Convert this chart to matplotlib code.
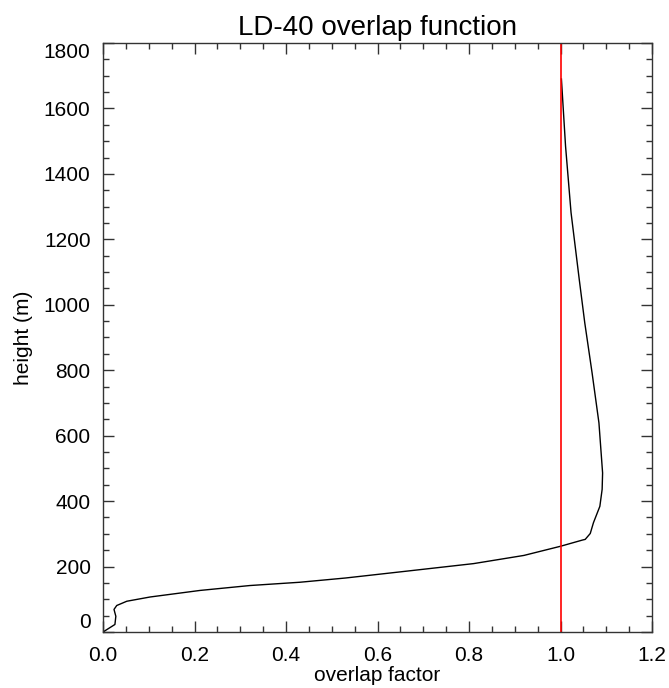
import matplotlib
matplotlib.use("Agg")
import matplotlib.pyplot as plt
from matplotlib.ticker import MultipleLocator

plt.rcParams['font.family'] = ['Liberation Sans', 'DejaVu Sans']

# overlap factor
height = [0, 23, 48, 69, 81, 94, 107, 127, 142, 152, 165, 186, 209, 234,
          262, 281, 283, 301, 334, 384, 436, 486, 639, 792, 945, 1077, 1282,
          1485, 1690]
overlap = [0.0, 0.026, 0.028, 0.024, 0.030, 0.052, 0.103, 0.212, 0.321, 0.43,
           0.53, 0.664, 0.81, 0.92, 1.0, 1.048, 1.054, 1.065, 1.072, 1.086,
           1.091, 1.092, 1.084, 1.069, 1.053, 1.041, 1.023, 1.011, 1.002]

xticks = [0.0, 0.2, 0.4, 0.6, 0.8, 1.0, 1.2]
yticks = [0, 200, 400, 600, 800, 1000, 1200, 1400, 1600, 1800]

fig = plt.figure(figsize=(6.69, 6.88), dpi=100)
ax = fig.add_axes([0.154, 0.0814, 0.8206, 0.8561])

ax.plot(overlap, height, color='black', lw=1)
ax.axvline(1.0, color='#ff0000', lw=1.2)

ax.set_xlim(0, 1.2)
ax.set_ylim(0, 1800)
ax.set_xticks(xticks, [f"{v:.1f}" for v in xticks])
ax.set_yticks(yticks, [str(v) for v in yticks])
ax.xaxis.set_minor_locator(MultipleLocator(0.05))
ax.yaxis.set_minor_locator(MultipleLocator(50))

# IDL keeps the end labels inside the axis range
ylabs = ax.get_yticklabels()
ylabs[0].set_va('bottom')
ylabs[-1].set_va('top')

ax.tick_params(which='both', direction='in', top=True, right=True,
               labelsize=15, width=1, color='#333333')
ax.tick_params(which='major', length=8)
ax.tick_params(which='minor', length=4)
ax.tick_params(axis='x', pad=10)
ax.tick_params(axis='y', pad=9)
for s in ax.spines.values():
    s.set_linewidth(1)
    s.set_color('#333333')

ax.set_title('LD-40 overlap function', fontsize=20, pad=6)
ax.set_xlabel('overlap factor', fontsize=15, labelpad=1)
ax.set_ylabel('height (m)', fontsize=15, labelpad=8)

fig.savefig('out.png', dpi=100)
